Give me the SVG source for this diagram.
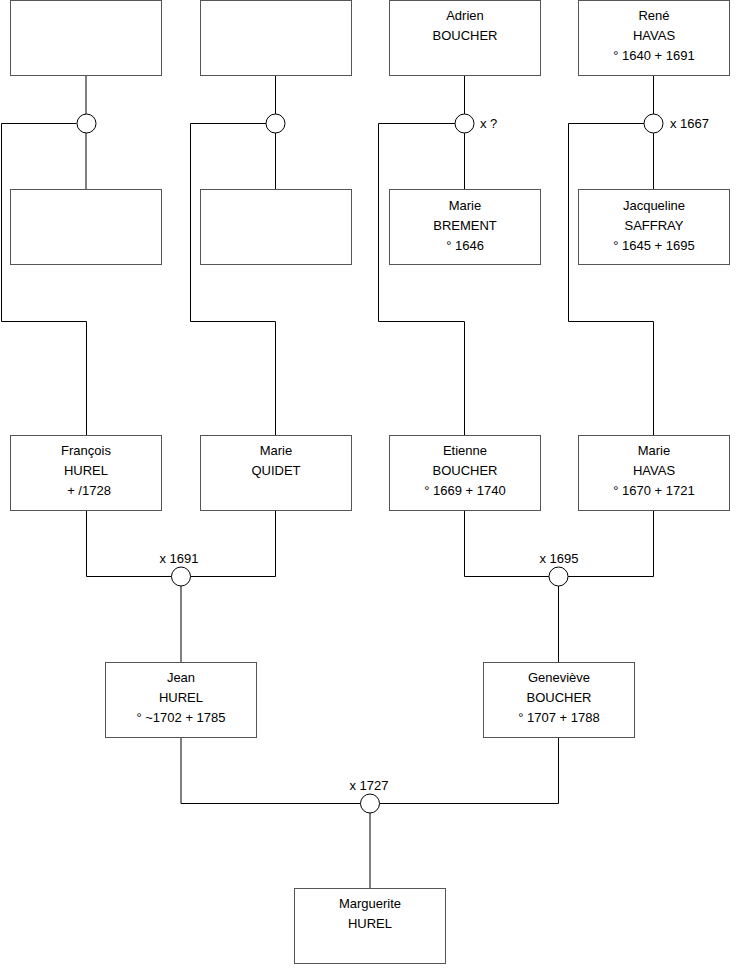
<svg xmlns="http://www.w3.org/2000/svg" width="740" height="975" viewBox="0 0 740 975">
<style>
.box{fill:#fff;stroke:#555;stroke-width:1}
.ln{fill:none;stroke:#000;stroke-width:1}
.c{fill:#fff;stroke:#000;stroke-width:1}
text{font-family:"Liberation Sans",Arial,sans-serif;font-size:13px;fill:#000}
.m{text-anchor:middle}
</style>
<rect width="740" height="975" fill="#fff"/>
<g id="connectors">
<path class="ln" d="M86,75.5V189 M76.5,123.5H1.5V321.5H86.5V435"/>
<path class="ln" d="M275.5,75.5V189 M266,123.5H190.5V321.5H275.5V435"/>
<path class="ln" d="M464.5,75.5V189 M455,123.5H378.5V321.5H464.5V435"/>
<path class="ln" d="M653.5,75.5V189 M644,123.5H568.5V321.5H653.5V435"/>
<path class="ln" d="M86.5,510V576.5H171.5 M275.5,510V576.5H190.5 M181,586V662"/>
<path class="ln" d="M464.5,510V576.5H549 M653.5,510V576.5H568 M558.5,586V662"/>
<path class="ln" d="M181,737V803.5H360.5 M558.5,737V803.5H379.5 M370,813V888"/>
<circle class="c" cx="86.5" cy="123.5" r="9.5"/>
<circle class="c" cx="275.5" cy="123.5" r="9.5"/>
<circle class="c" cx="464.5" cy="123.5" r="9.5"/>
<circle class="c" cx="653.5" cy="123.5" r="9.5"/>
<circle class="c" cx="181" cy="576.5" r="9.5"/>
<circle class="c" cx="558.5" cy="576.5" r="9.5"/>
<circle class="c" cx="370" cy="803.5" r="9.5"/>
<text x="480" y="128">x ?</text>
<text x="670" y="128">x 1667</text>
<text class="m" x="179" y="563">x 1691</text>
<text class="m" x="559" y="563">x 1695</text>
<text class="m" x="369" y="790">x 1727</text>
</g>
<g id="n1"><rect class="box" x="10.5" y="0.5" width="151" height="75"/></g>
<g id="n2"><rect class="box" x="200.5" y="0.5" width="151" height="75"/></g>
<g id="n3"><rect class="box" x="389.5" y="0.5" width="151" height="75"/>
<text class="m" x="465" y="20">Adrien</text><text class="m" x="465" y="40">BOUCHER</text></g>
<g id="n4"><rect class="box" x="578.5" y="0.5" width="151" height="75"/>
<text class="m" x="654" y="20">René</text><text class="m" x="654" y="40">HAVAS</text><text class="m" x="654" y="60">° 1640 + 1691</text></g>
<g id="n5"><rect class="box" x="10.5" y="189.5" width="151" height="75"/></g>
<g id="n6"><rect class="box" x="200.5" y="189.5" width="151" height="75"/></g>
<g id="n7"><rect class="box" x="389.5" y="189.5" width="151" height="75"/>
<text class="m" x="465" y="210">Marie</text><text class="m" x="465" y="230">BREMENT</text><text class="m" x="465" y="250">° 1646</text></g>
<g id="n8"><rect class="box" x="578.5" y="189.5" width="151" height="75"/>
<text class="m" x="654" y="210">Jacqueline</text><text class="m" x="654" y="230">SAFFRAY</text><text class="m" x="654" y="250">° 1645 + 1695</text></g>
<g id="n9"><rect class="box" x="10.5" y="435.5" width="151" height="75"/>
<text class="m" x="86" y="455">François</text><text class="m" x="86" y="475">HUREL</text><text class="m" x="89" y="495">+ /1728</text></g>
<g id="n10"><rect class="box" x="200.5" y="435.5" width="151" height="75"/>
<text class="m" x="276" y="455">Marie</text><text class="m" x="276" y="475">QUIDET</text></g>
<g id="n11"><rect class="box" x="389.5" y="435.5" width="151" height="75"/>
<text class="m" x="465" y="455">Etienne</text><text class="m" x="465" y="475">BOUCHER</text><text class="m" x="465" y="495">° 1669 + 1740</text></g>
<g id="n12"><rect class="box" x="578.5" y="435.5" width="151" height="75"/>
<text class="m" x="654" y="455">Marie</text><text class="m" x="654" y="475">HAVAS</text><text class="m" x="654" y="495">° 1670 + 1721</text></g>
<g id="n13"><rect class="box" x="105.5" y="662.5" width="151" height="75"/>
<text class="m" x="181" y="682">Jean</text><text class="m" x="181" y="702">HUREL</text><text class="m" x="181" y="722">° ~1702 + 1785</text></g>
<g id="n14"><rect class="box" x="483.5" y="662.5" width="151" height="75"/>
<text class="m" x="559" y="682">Geneviève</text><text class="m" x="559" y="702">BOUCHER</text><text class="m" x="559" y="722">° 1707 + 1788</text></g>
<g id="n15"><rect class="box" x="294.5" y="888.5" width="151" height="75"/>
<text class="m" x="370" y="908">Marguerite</text><text class="m" x="370" y="928">HUREL</text></g>
</svg>
